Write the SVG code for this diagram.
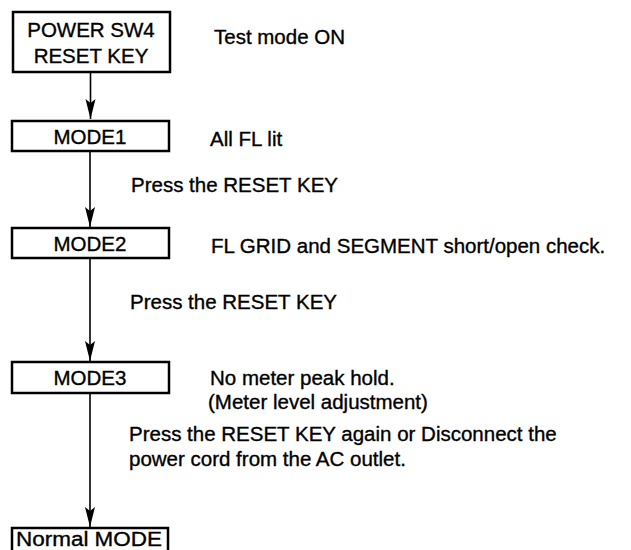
<svg xmlns="http://www.w3.org/2000/svg" width="631" height="550" viewBox="0 0 631 550">
<style>
  text { font-family: "Liberation Sans", Arial, sans-serif; font-size: 20.5px; fill: #000; stroke: #000; stroke-width: 0.35; }
  .c { text-anchor: middle; }
  .box { fill: #fff; stroke: #000; stroke-width: 2.5; }
  .conn { stroke: #000; stroke-width: 1.6; fill: none; marker-end: url(#ah); }
</style>
<defs>
  <marker id="ah" markerUnits="userSpaceOnUse" markerWidth="22" markerHeight="12" refX="20" refY="6" orient="auto">
    <path d="M0,1 L20,6 L0,11 L4,6 z" fill="#000"/>
  </marker>
</defs>
<rect width="631" height="550" fill="#fff"/>
<g id="connectors">
  <line class="conn" x1="90.5" y1="73" x2="90.5" y2="119"/>
  <line class="conn" x1="90" y1="152" x2="90" y2="227"/>
  <line class="conn" x1="90" y1="259" x2="90" y2="361"/>
  <line class="conn" x1="90" y1="394" x2="90" y2="527"/>
</g>
<g id="power">
  <rect class="box" x="13" y="12" width="157" height="60"/>
  <text class="c" x="91" y="37">POWER SW4</text>
  <text class="c" x="91" y="63">RESET KEY</text>
</g>
<g id="mode1">
  <rect class="box" x="12" y="121" width="157" height="30"/>
  <text class="c" x="90" y="144">MODE1</text>
</g>
<g id="mode2">
  <rect class="box" x="12" y="228" width="157" height="30"/>
  <text class="c" x="90" y="251">MODE2</text>
</g>
<g id="mode3">
  <rect class="box" x="12" y="362" width="157" height="31"/>
  <text class="c" x="90" y="385">MODE3</text>
</g>
<g id="normal">
  <rect class="box" x="12" y="528" width="156" height="30"/>
  <text class="c" x="89" y="546" textLength="146" lengthAdjust="spacingAndGlyphs">Normal MODE</text>
</g>
<g id="labels">
  <text x="214" y="44">Test mode ON</text>
  <text x="210" y="146">All FL lit</text>
  <text x="131" y="192">Press the RESET KEY</text>
  <text x="211" y="253">FL GRID and SEGMENT short/open check.</text>
  <text x="130" y="309">Press the RESET KEY</text>
  <text x="210" y="385">No meter peak hold.</text>
  <text x="208" y="409">(Meter level adjustment)</text>
  <text x="129" y="441">Press the RESET KEY again or Disconnect the</text>
  <text x="129" y="466">power cord from the AC outlet.</text>
</g>
</svg>
